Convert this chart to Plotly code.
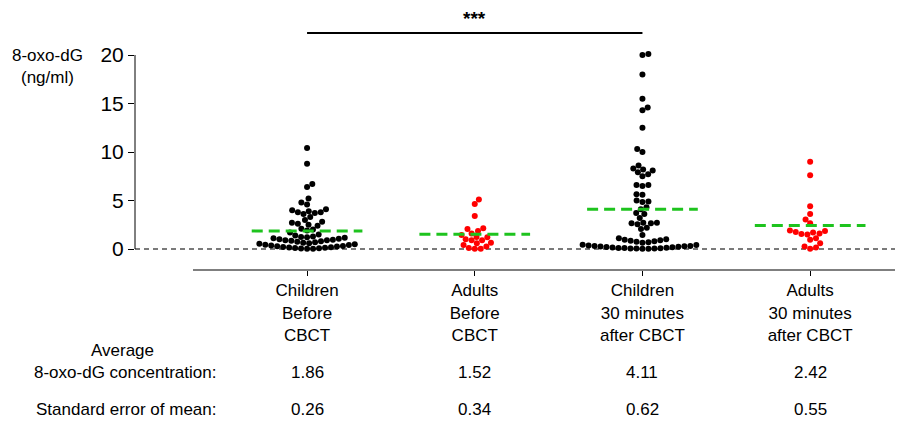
import numpy as np
import plotly.graph_objects as go

# ---------------- data ----------------
categories = ["Children<br>Before<br>CBCT", "Adults<br>Before<br>CBCT",
              "Children<br>30 minutes<br>after CBCT", "Adults<br>30 minutes<br>after CBCT"]

children_before = [10.4, 8.8, 6.7, 6.4, 5.2, 4.8, 4.6,
                   4.1, 4.0, 3.9, 3.8, 3.8, 3.7, 3.6,
                   3.3, 3.0, 2.8, 2.7, 2.6, 2.5, 2.4,
                   2.1, 2.0, 1.9, 1.7,
                   1.5, 1.4, 1.3, 1.25, 1.2, 1.15, 1.1, 1.05, 1.0, 0.95, 0.9, 0.9,
                   0.85, 0.8, 0.75, 0.7, 0.6, 0.55, 0.65,
                   0.5, 0.45, 0.4, 0.35, 0.3, 0.28, 0.25, 0.2, 0.18, 0.15, 0.12, 0.1,
                   0.08, 0.05, 0.03, 0.02]

adults_before = [5.1, 4.65, 3.4, 2.15, 2.05, 1.85, 1.6, 1.45, 1.25, 1.2,
                 1.0, 0.9, 0.9, 0.65, 0.6, 0.4, 0.25, 0.1, 0.03, 0.02]

children_after = [20.1, 20.0, 18.0, 15.5, 14.6, 14.3, 12.5, 10.3, 10.0, 8.6, 8.3, 8.2,
                  8.1, 7.9, 7.7, 7.5, 6.6, 6.6, 6.5, 5.65, 5.6, 5.0, 4.9, 4.85, 4.3, 4.1,
                  3.7, 3.6, 3.2, 2.7, 2.7, 2.65, 2.65, 2.55, 2.2, 2.05,
                  1.45, 1.1, 1.0, 0.95, 0.9, 0.85, 0.8, 0.75, 0.7, 0.65,
                  0.45, 0.4, 0.35, 0.32, 0.3, 0.28, 0.25, 0.22, 0.2, 0.18,
                  0.15, 0.12, 0.1, 0.1, 0.08, 0.06, 0.05, 0.04, 0.03, 0.02]

adults_after = [9.0, 7.6, 4.4, 3.6, 3.05, 2.65, 1.9, 1.85, 1.75, 1.7, 1.6, 1.55, 1.5,
                1.1, 0.95, 0.6, 0.25, 0.15, 0.03]

mean_values = [1.86, 1.52, 4.11, 2.42]
sem_values = [0.26, 0.34, 0.62, 0.55]
point_colors = ["#000000", "#ff0000", "#000000", "#ff0000"]
y_tick_values = [0, 5, 10, 15, 20]
significance_label = "***"
row_labels = ["Average", "8-oxo-dG concentration:", "Standard error of mean:"]
y_title = "8-oxo-dG<br>(ng/ml)"

groups = [children_before, adults_before, children_after, adults_after]

# ---------------- layout geometry ----------------
W, H = 912, 422
ML, MR, MT, MB = 135, 17, 10, 152
PW, PH = W - ML - MR, H - MT - MB
X_RANGE = [-1.026, 3.506]
Y_RANGE = [-2.165, 24.64]
PX_X = PW / (X_RANGE[1] - X_RANGE[0])
PX_Y = PH / (Y_RANGE[1] - Y_RANGE[0])
FONT = "Arial, Liberation Sans, sans-serif"
DIAM = 6.0


def beeswarm(values, diam=DIAM):
    vals = np.asarray(values, dtype=float)
    order = np.argsort(vals, kind="stable")
    placed = []
    offsets = np.zeros(len(vals))
    side = 1
    for i in order:
        y = vals[i] * PX_Y
        cands = [0.0]
        for (px, py) in placed:
            dy = y - py
            if abs(dy) < diam:
                dx = np.sqrt(diam ** 2 - dy ** 2)
                cands += [px + dx, px - dx]
        cands.sort(key=lambda c: (round(abs(c), 3), side * c))
        chosen = 0.0
        for c in cands:
            if all((c - px) ** 2 + (y - py) ** 2 >= diam ** 2 - 1e-6 for px, py in placed):
                chosen = c
                break
        side = -side
        placed.append((chosen, y))
        offsets[i] = chosen
    return offsets / PX_X


def y_to_paper(v):
    return (v - Y_RANGE[0]) / (Y_RANGE[1] - Y_RANGE[0])


def py_paper(ypx):
    return (MT + PH - ypx) / PH


fig = go.Figure()

for gi, vals in enumerate(groups):
    off = beeswarm(vals)
    fig.add_trace(go.Scatter(
        x=gi + off, y=vals, mode="markers",
        marker=dict(size=DIAM, color=point_colors[gi], line=dict(width=0)),
        showlegend=False, hoverinfo="y"))

# mean lines
for gi, m in enumerate(mean_values):
    fig.add_trace(go.Scatter(
        x=[gi - 0.33, gi + 0.33], y=[m, m], mode="lines",
        line=dict(color="#1ec31e", width=3, dash="11px,6px"),
        showlegend=False, hoverinfo="skip"))

sig_y = (249 - 33) / PX_Y
shapes = [
    # zero reference line
    dict(type="line", xref="paper", x0=0, x1=1, yref="y", y0=0, y1=0,
         line=dict(color="#7a7a7a", width=2, dash="5px,4px"), layer="below"),
    # y axis line (0 to 20 only)
    dict(type="line", xref="paper", x0=0, x1=0, yref="paper",
         y0=y_to_paper(0), y1=y_to_paper(20),
         line=dict(color="#000000", width=1)),
    # x axis line
    dict(type="line", xref="paper", x0=(193 - ML) / PW, x1=1, yref="paper", y0=0, y1=0,
         line=dict(color="#000000", width=1.2)),
    # significance bar
    dict(type="line", xref="x", x0=0, x1=2, yref="y", y0=sig_y, y1=sig_y,
         line=dict(color="#000000", width=2)),
]

txt = dict(size=17, color="#000000", family=FONT)
annotations = [
    dict(text="<b>" + significance_label + "</b>", xref="x", x=1, xanchor="center",
         yref="y", y=(249 - 18) / PX_Y, yanchor="middle",
         showarrow=False, font=dict(size=19, color="#000000", family=FONT)),
    dict(text=y_title, xref="paper", x=(47 - ML) / PW, xanchor="center",
         yref="paper", y=py_paper(66), yanchor="middle", showarrow=False, font=txt),
    dict(text=row_labels[0], xref="paper", x=(122 - ML) / PW, xanchor="center",
         yref="paper", y=py_paper(350), yanchor="middle", showarrow=False, font=txt),
    dict(text=row_labels[1], xref="paper", x=(218 - ML) / PW, xanchor="right",
         yref="paper", y=py_paper(372), yanchor="middle", showarrow=False, font=txt),
    dict(text=row_labels[2], xref="paper", x=(218 - ML) / PW, xanchor="right",
         yref="paper", y=py_paper(410), yanchor="middle", showarrow=False, font=txt),
]
for gi in range(4):
    annotations.append(dict(text=f"{mean_values[gi]:.2f}", xref="x", x=gi, xanchor="center",
                            yref="paper", y=py_paper(372), yanchor="middle",
                            showarrow=False, font=txt))
    annotations.append(dict(text=f"{sem_values[gi]:.2f}", xref="x", x=gi, xanchor="center",
                            yref="paper", y=py_paper(410), yanchor="middle",
                            showarrow=False, font=txt))

fig.update_layout(
    width=W, height=H,
    margin=dict(l=ML, r=MR, t=MT, b=MB, autoexpand=False),
    paper_bgcolor="white", plot_bgcolor="white",
    font=dict(family=FONT, color="#000000"),
    xaxis=dict(range=X_RANGE, tickvals=[0, 1, 2, 3], ticktext=categories,
               ticks="outside", ticklen=5, tickwidth=1, tickcolor="#000000",
               showgrid=False, zeroline=False, showline=False,
               tickfont=dict(size=17, family=FONT, color="#000000")),
    yaxis=dict(range=Y_RANGE, tickvals=y_tick_values, ticks="outside", ticklen=6,
               tickwidth=1, tickcolor="#000000", showgrid=False, zeroline=False,
               showline=False, tickfont=dict(size=21, family=FONT, color="#000000")),
    shapes=shapes, annotations=annotations, showlegend=False,
)

fig.write_html("out.html", config={"displayModeBar": False},
               post_script="document.body.style.margin='0px';")
